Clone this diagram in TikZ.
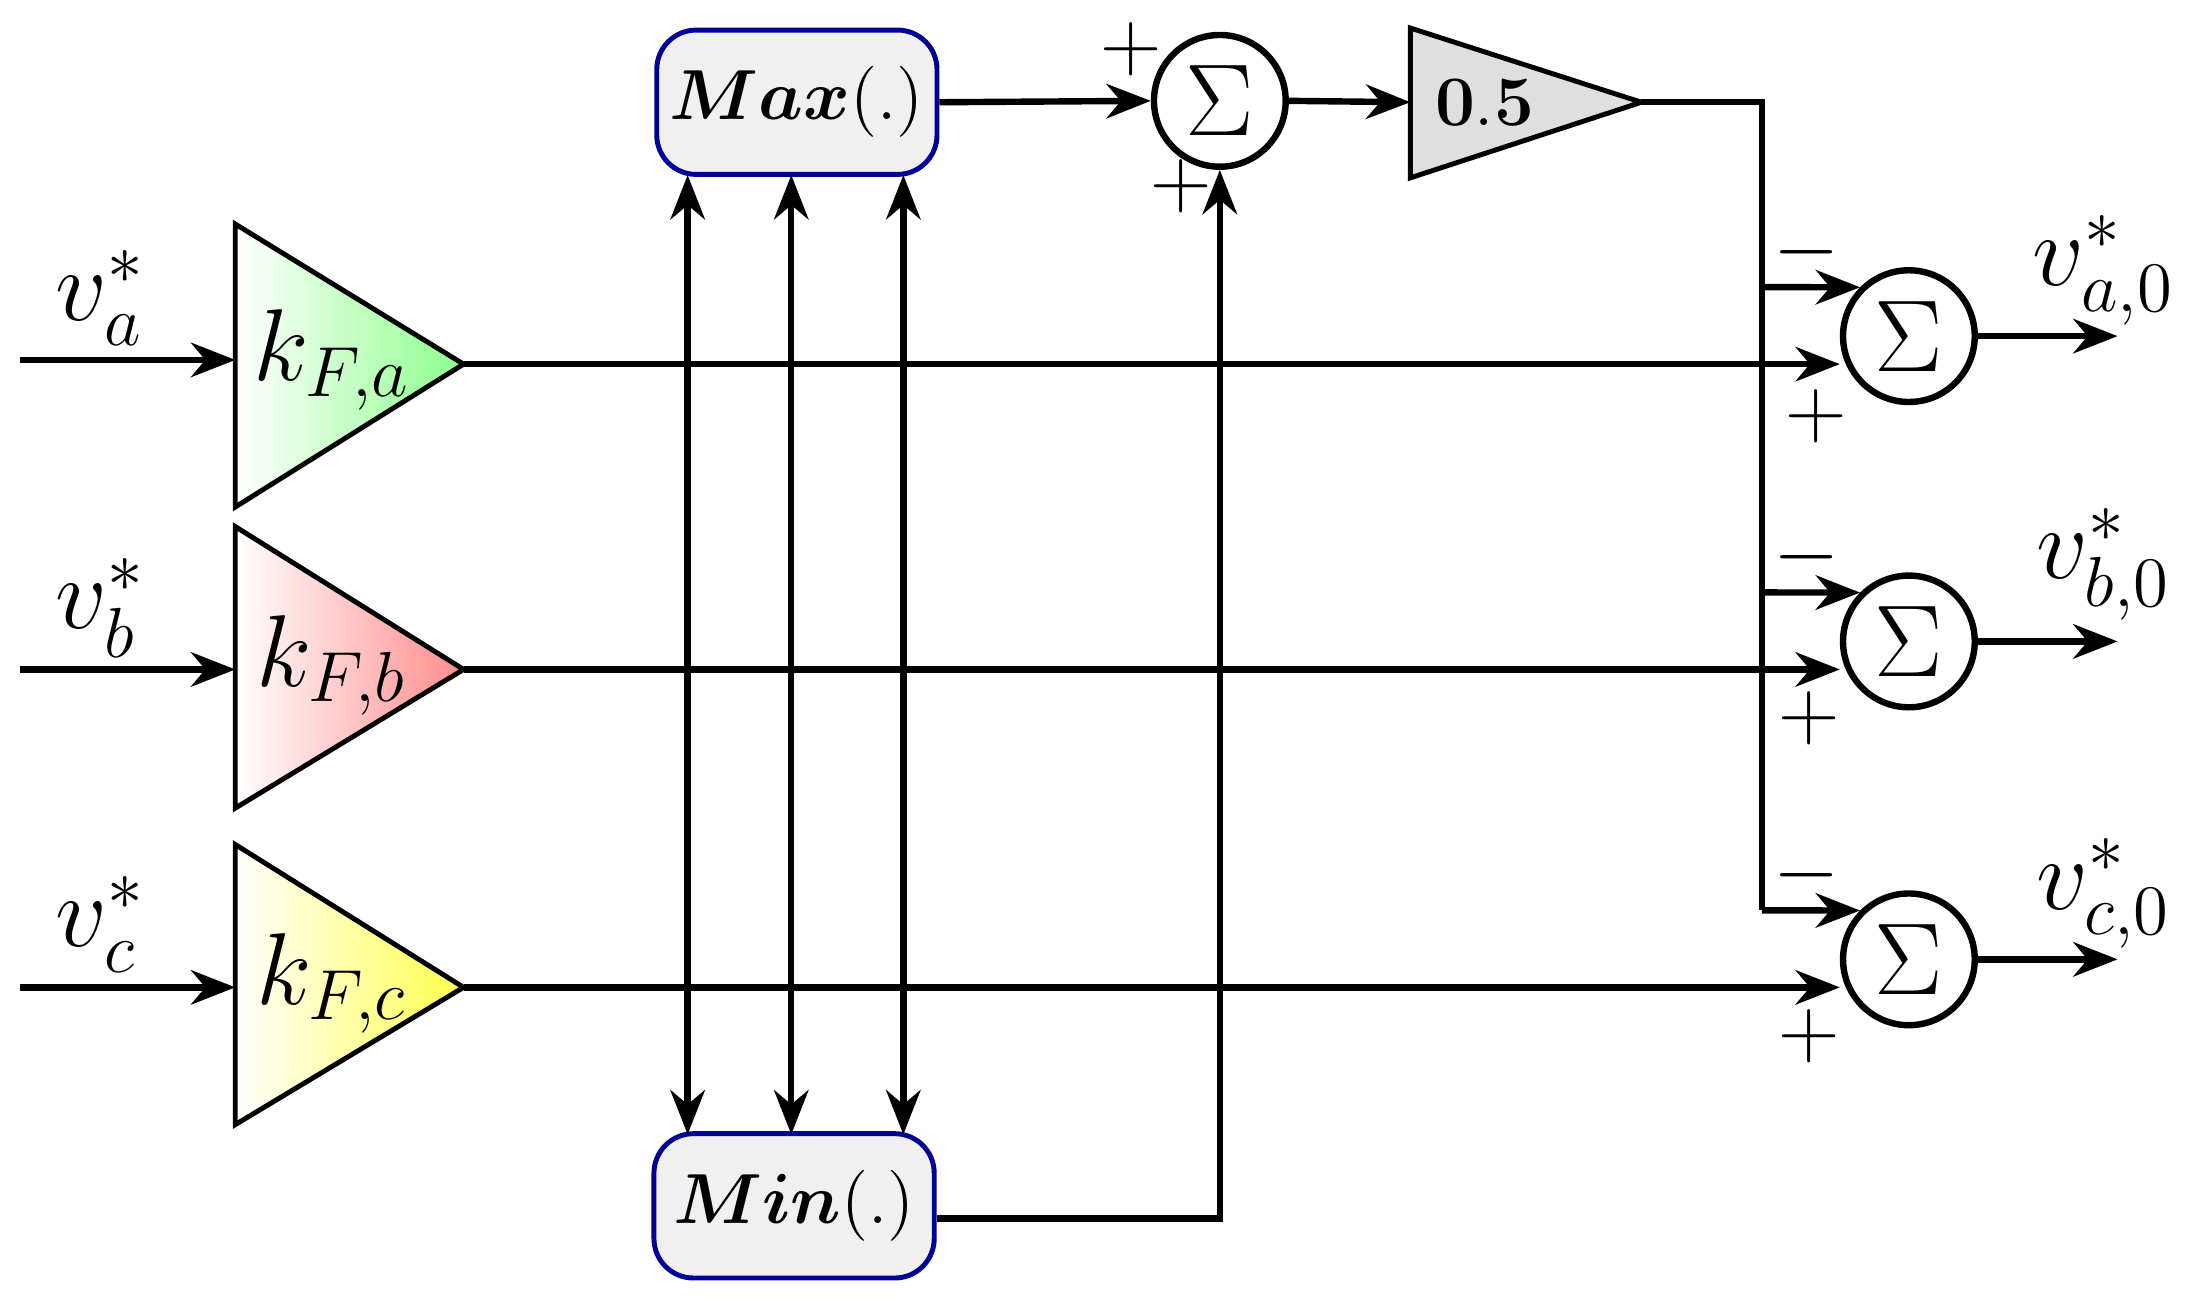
\documentclass[tikz,border=0pt]{standalone}
\usepackage{amsmath}
\usetikzlibrary{arrows.meta}
\begin{document}
\begin{tikzpicture}[x=0.01cm,y=-0.01cm,
  ln/.style={line width=1.3pt,-{Stealth[length=9pt,width=7pt]}},
  pl/.style={line width=1.3pt},
  dbl/.style={line width=1.3pt,{Stealth[length=9pt,width=7pt]}-{Stealth[length=9pt,width=7pt]}},
  box/.style={draw=blue!60!black,line width=1pt,fill=gray!12,rounded corners=8pt,minimum width=2cm,minimum height=1.03cm,inner sep=0pt,font=\fontsize{14}{17}\selectfont},
  sum/.style={circle,draw,line width=1.3pt,minimum size=0.94cm,inner sep=0pt,font=\fontsize{20}{24}\selectfont},
  lab/.style={font=\fontsize{20}{24}\selectfont},
  sg/.style={font=\fontsize{17}{20}\selectfont}]
\useasboundingbox (0,0) rectangle (1568,930);
\node[box] (max) at (569,73) {$\boldsymbol{Max}(.)$};
\node[box] (min) at (567,861) {$\boldsymbol{Min}(.)$};
\node[sum] (s0) at (871,72) {$\Sigma$};
\node[sum] (sa) at (1363,240) {$\Sigma$};
\node[sum] (sb) at (1363,458) {$\Sigma$};
\node[sum] (sc) at (1363,685) {$\Sigma$};
\draw[line width=1pt,fill=gray!25] (1007,20) -- (1172,73) -- (1007,127) -- cycle;
\coordinate (gin) at (1007,73); \coordinate (gout) at (1172,73);
\node[font=\fontsize{15}{18}\selectfont] (g) at (1060,73) {$\mathbf{0.5}$};
\draw[line width=1pt,left color=white,right color=green!45!white] (168,160) -- (331,260) -- (168,362) -- cycle;
\draw[line width=1pt,left color=white,right color=red!45!white] (168,376) -- (331,478) -- (168,577) -- cycle;
\draw[line width=1pt,left color=white,right color=yellow!70!white] (168,603) -- (331,705) -- (168,803) -- cycle;
\coordinate (ta) at (331,260); \coordinate (tb) at (331,478); \coordinate (tc) at (331,705);
\coordinate (ia) at (168,257); \coordinate (ib) at (168,478); \coordinate (ic) at (168,705);
\node[lab] (ka) at (237,257) {$k_{F,a}$};
\node[lab] (kb) at (237,475) {$k_{F,b}$};
\node[lab] (kc) at (237,702) {$k_{F,c}$};
\coordinate (xa) at (14,257); \coordinate (xb) at (14,478); \coordinate (xc) at (14,705);
\draw[ln] (xa) -- (ia); \draw[ln] (xb) -- (ib); \draw[ln] (xc) -- (ic);
\node[lab] (va) at (72,213) {$v_a^*$};
\node[lab] (vb) at (72,434) {$v_b^*$};
\node[lab] (vc) at (72,660) {$v_c^*$};
\draw[ln] (ta) -- (sa.west |- ta);
\draw[ln] (tb) -- (sb.west |- tb);
\draw[ln] (tc) -- (sc.west |- tc);
\foreach \x in {491,565,645} \draw[dbl] (\x,125) -- (\x,810);
\draw[ln] (max.east) -- (s0.west);
\coordinate (mc) at (871,870);
\draw[ln] (min.east |- mc) -- (mc) -- (s0.south);
\draw[ln] (s0.east) -- (gin);
\coordinate (j0) at (1258,73); \coordinate (j1) at (1258,650);
\draw[pl] (gout) -- (j0) -- (j1);
\draw[ln] (1258,205) -- (sa.135);
\draw[ln] (1258,423) -- (sb.135);
\draw[ln] (j1) -- (sc.135);
\coordinate (oa) at (1512,240); \coordinate (ob) at (1512,458); \coordinate (oc) at (1512,685);
\draw[ln] (sa.east) -- (oa); \draw[ln] (sb.east) -- (ob); \draw[ln] (sc.east) -- (oc);
\node[lab] (ya) at (1502,193) {$v_{a,0}^*$};
\node[lab] (yb) at (1502,403) {$v_{b,0}^*$};
\node[lab] (yc) at (1502,638) {$v_{c,0}^*$};
\node[sg] at (808,35) {$+$};
\node[sg] at (843,133) {$+$};
\node[sg] at (1290,180) {$-$};
\node[sg] at (1297,297) {$+$};
\node[sg] at (1290,398) {$-$};
\node[sg] at (1292,513) {$+$};
\node[sg] at (1290,625) {$-$};
\node[sg] at (1292,740) {$+$};
\end{tikzpicture}
\end{document}
